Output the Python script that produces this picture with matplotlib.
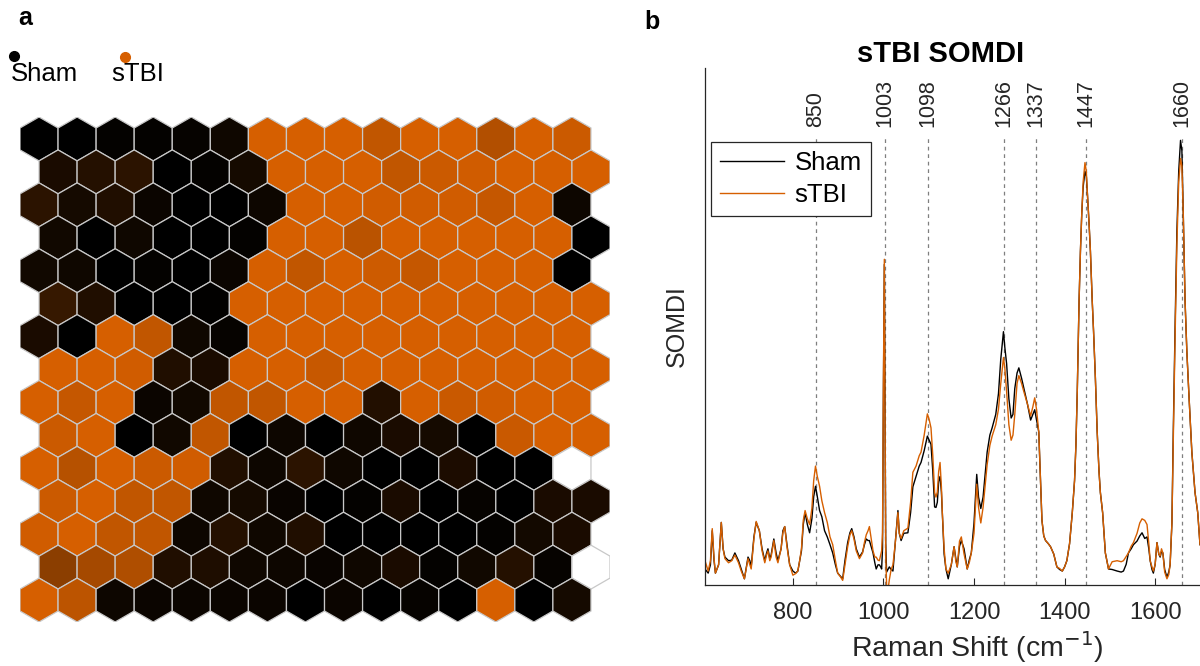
import numpy as np
import matplotlib.pyplot as plt
from matplotlib.patches import RegularPolygon
from matplotlib.lines import Line2D

plt.rcParams['font.family'] = ['Liberation Sans', 'DejaVu Sans']

ORANGE = np.array([214, 95, 0]) / 255  # sTBI colour
nan = np.nan

# fraction of sTBI spectra per SOM neuron, top row first (nan = empty neuron)
stbi_fraction = [
    [0.0, 0.0, 0.02, 0.02, 0.03, 0.07, 1, 1, 1, 0.9, 1, 1, 0.83, 1, 0.95],
    [0.12, 0.17, 0.2, 0.0, 0.02, 0.1, 1, 1, 1, 0.9, 0.95, 0.97, 1, 1, 1],
    [0.2, 0.1, 0.15, 0.05, 0.0, 0.0, 0.06, 1, 1, 0.97, 0.97, 0.97, 0.92, 1, 0.06],
    [0.08, 0.0, 0.07, 0.0, 0.0, 0.02, 1, 1, 0.87, 1, 1, 1, 1, 1, 0.0],
    [0.08, 0.07, 0.0, 0.02, 0.0, 0.05, 1, 0.9, 1, 0.96, 0.92, 1, 1, 1, 0.0],
    [0.25, 0.15, 0.0, 0.0, 0.01, 1, 1, 1, 1, 1, 1, 1, 1, 1, 1],
    [0.12, 0.0, 1, 0.9, 0.07, 0.03, 1, 1, 1, 1, 1, 1, 1, 1, 1],
    [1, 1, 0.97, 0.15, 0.12, 1, 1, 0.93, 1, 1, 1, 1, 1, 1, 1],
    [1, 0.92, 1, 0.05, 0.08, 0.9, 0.9, 1, 1, 0.16, 1, 0.94, 0.97, 1, 1],
    [0.95, 1, 0.0, 0.08, 0.9, 0.0, 0.06, 0.0, 0.07, 0.12, 0.1, 0.0, 0.94, 1, 1],
    [1, 0.85, 1, 0.95, 0.97, 0.15, 0.06, 0.2, 0.07, 0.0, 0.0, 0.13, 0.0, 0.0, nan],
    [0.95, 1, 0.9, 0.9, 0.07, 0.1, 0.04, 0.0, 0.02, 0.12, 0.0, 0.03, 0.0, 0.12, 0.12],
    [0.97, 1, 0.9, 0.9, 0.06, 0.17, 0.07, 0.15, 0.0, 0.0, 0.0, 0.0, 0.02, 0.09, 0.12],
    [0.65, 0.77, 0.82, 0.15, 0.14, 0.07, 0.06, 0.04, 0.07, 0.12, 0.02, 0.08, 0.17, 0.03, nan],
    [1, 0.88, 0.06, 0.05, 0.05, 0.05, 0.05, 0.0, 0.05, 0.0, 0.03, 0.0, 1, 0.0, 0.1],
]

# SOMDI spectra
raman_shift = [606, 613, 618, 622, 626, 629, 636, 642, 646, 650, 658, 665, 672, 680, 686, 693,
               701, 705, 708, 714, 719, 726, 732, 738, 742, 745, 749, 752, 758, 763, 767, 774,
               778, 782, 787, 793, 800, 806, 811, 815, 819, 823, 827, 832, 837, 842, 846, 850,
               854, 859, 864, 870, 876, 882, 888, 894, 899, 905, 910, 915, 921, 926, 930, 935,
               940, 947, 954, 958, 962, 966, 969, 973, 977, 981, 984, 988, 991, 994, 996, 998,
               1000, 1002, 1003.5, 1005, 1007, 1010, 1013, 1017, 1021, 1026, 1032, 1035, 1039,
               1045, 1054, 1060, 1065, 1072, 1079, 1083, 1090, 1097, 1101, 1105, 1109, 1113,
               1116, 1119, 1122, 1125, 1128, 1130, 1134, 1138, 1143, 1150, 1156, 1160, 1163,
               1168, 1172, 1178, 1185, 1190, 1194, 1200, 1206, 1210, 1215, 1220, 1229, 1235,
               1240, 1248, 1254, 1259, 1265, 1268, 1272, 1277, 1282, 1286, 1290, 1295, 1299,
               1305, 1310, 1318, 1325, 1330, 1334, 1338, 1343, 1347, 1350, 1354, 1358, 1364,
               1369, 1376, 1383, 1389, 1395, 1400, 1405, 1411, 1417, 1422, 1425, 1428, 1432,
               1435, 1438, 1441, 1445, 1448, 1450, 1454, 1457, 1461, 1464, 1468, 1472, 1476,
               1479, 1484, 1490, 1497, 1505, 1516, 1525, 1530, 1536, 1541, 1547, 1552, 1560,
               1566, 1571, 1577, 1582, 1586, 1589, 1593, 1596, 1600, 1604, 1608, 1611, 1614,
               1617, 1621, 1626, 1630, 1633, 1637, 1640, 1644, 1648, 1652, 1656, 1659, 1662,
               1666, 1670, 1675, 1681, 1688, 1694, 1699]
sham_somdi = [0.031, 0.023, 0.039, 0.105, 0.047, 0.023, 0.039, 0.121, 0.070, 0.054, 0.047, 0.048,
              0.062, 0.047, 0.031, 0.012, 0.054, 0.047, 0.035, 0.093, 0.121, 0.105, 0.070, 0.047,
              0.062, 0.070, 0.051, 0.058, 0.089, 0.062, 0.047, 0.070, 0.105, 0.113, 0.078, 0.039,
              0.027, 0.023, 0.027, 0.047, 0.066, 0.117, 0.140, 0.117, 0.101, 0.128, 0.171, 0.191,
              0.171, 0.144, 0.132, 0.105, 0.093, 0.078, 0.062, 0.039, 0.023, 0.017, 0.012, 0.047,
              0.082, 0.101, 0.109, 0.093, 0.070, 0.054, 0.064, 0.078, 0.089, 0.086, 0.086, 0.074,
              0.062, 0.043, 0.031, 0.039, 0.039, 0.035, 0.031, 0.070,
              0.38, 0.62, 0.35, 0.08, 0.025, 0.03, 0.035, 0.03, 0.027, 0.08, 0.144, 0.10, 0.086,
              0.10, 0.101, 0.14, 0.19, 0.21, 0.23, 0.237, 0.26, 0.288, 0.28, 0.272, 0.22, 0.151,
              0.15, 0.16, 0.20, 0.21, 0.18, 0.14, 0.06, 0.031, 0.012, 0.04, 0.074, 0.05, 0.035,
              0.075, 0.086, 0.07, 0.031, 0.05, 0.062, 0.12, 0.214, 0.17, 0.148, 0.17, 0.257, 0.29,
              0.304, 0.33, 0.37, 0.436, 0.49, 0.46, 0.428, 0.36, 0.323, 0.33, 0.38, 0.41, 0.42,
              0.40, 0.381, 0.35, 0.319, 0.33, 0.339, 0.32, 0.296, 0.20, 0.125, 0.095, 0.086, 0.08,
              0.074, 0.06, 0.035, 0.03, 0.027, 0.035, 0.047, 0.08, 0.14, 0.202, 0.27, 0.374, 0.55,
              0.646, 0.72, 0.77, 0.80, 0.79, 0.763, 0.70, 0.646, 0.55, 0.49, 0.40, 0.296, 0.22,
              0.179, 0.14, 0.062, 0.031, 0.03, 0.027, 0.025, 0.027, 0.04, 0.062, 0.07, 0.078, 0.085,
              0.095, 0.101, 0.09, 0.093, 0.07, 0.047, 0.03, 0.023, 0.04, 0.082, 0.06, 0.054, 0.065,
              0.062, 0.03, 0.015, 0.025, 0.039, 0.12, 0.296, 0.50, 0.685, 0.80, 0.86, 0.84, 0.72,
              0.55, 0.451, 0.36, 0.257, 0.179, 0.14, 0.078]
stbi_somdi = [0.047, 0.027, 0.047, 0.109, 0.051, 0.023, 0.039, 0.121, 0.070, 0.051, 0.043, 0.047,
              0.058, 0.043, 0.027, 0.012, 0.051, 0.039, 0.031, 0.089, 0.123, 0.105, 0.066, 0.043,
              0.058, 0.066, 0.047, 0.054, 0.086, 0.054, 0.043, 0.070, 0.101, 0.113, 0.074, 0.039,
              0.019, 0.022, 0.027, 0.047, 0.070, 0.125, 0.144, 0.128, 0.117, 0.148, 0.202, 0.230,
              0.210, 0.191, 0.163, 0.140, 0.121, 0.093, 0.078, 0.047, 0.023, 0.016, 0.009, 0.039,
              0.074, 0.097, 0.105, 0.089, 0.066, 0.051, 0.062, 0.082, 0.097, 0.105, 0.113, 0.089,
              0.066, 0.054, 0.054, 0.048, 0.047, 0.058, 0.066, 0.101,
              0.40, 0.63, 0.36, 0.06, 0.0, -0.01, 0.01, 0.03, 0.039, 0.08, 0.14, 0.10, 0.09,
              0.105, 0.11, 0.16, 0.218, 0.23, 0.25, 0.257, 0.29, 0.331, 0.32, 0.304, 0.25, 0.179,
              0.17, 0.18, 0.22, 0.237, 0.19, 0.14, 0.07, 0.031, 0.023, 0.04, 0.074, 0.045, 0.035,
              0.085, 0.093, 0.06, 0.031, 0.045, 0.062, 0.10, 0.195, 0.15, 0.12, 0.15, 0.233, 0.27,
              0.288, 0.31, 0.34, 0.389, 0.44, 0.42, 0.374, 0.31, 0.28, 0.29, 0.33, 0.39, 0.405,
              0.39, 0.374, 0.35, 0.327, 0.345, 0.362, 0.34, 0.296, 0.20, 0.125, 0.095, 0.086, 0.08,
              0.074, 0.06, 0.035, 0.032, 0.027, 0.035, 0.047, 0.08, 0.14, 0.202, 0.27, 0.374, 0.55,
              0.646, 0.72, 0.78, 0.817, 0.80, 0.763, 0.70, 0.646, 0.55, 0.49, 0.40, 0.296, 0.22,
              0.179, 0.14, 0.062, 0.031, 0.045, 0.047, 0.045, 0.047, 0.055, 0.062, 0.075, 0.082, 0.10,
              0.12, 0.128, 0.125, 0.117, 0.08, 0.047, 0.035, 0.027, 0.04, 0.082, 0.06, 0.056, 0.07,
              0.062, 0.025, 0.012, 0.02, 0.039, 0.12, 0.28, 0.48, 0.66, 0.78, 0.825, 0.81, 0.72,
              0.55, 0.451, 0.36, 0.257, 0.179, 0.14, 0.078]

peak_positions = [850, 1003, 1098, 1266, 1337, 1447, 1660]
x_ticks = [800, 1000, 1200, 1400, 1600]

W, H = 1200, 666
fig = plt.figure(figsize=(W / 100, H / 100), dpi=100)

# ---- panel a: SOM hexagon map ----
R = 1 / np.sqrt(3)  # hexagon radius for unit width
n_rows = len(stbi_fraction)
n_cols = len(stbi_fraction[0])
ax_a = fig.add_axes([20 / W, (H - 622) / H, 590 / W, 505 / H])
for r, row in enumerate(stbi_fraction):
    for c, frac in enumerate(row):
        x = c + 0.5 * (r % 2)
        y = (n_rows - 1 - r) * 1.5 * R
        face = 'white' if np.isnan(frac) else ORANGE * frac
        ax_a.add_patch(RegularPolygon((x, y), numVertices=6, radius=R, orientation=0,
                                      facecolor=face, edgecolor='#c8c8c8', linewidth=0.9))
ax_a.set_xlim(-0.5, n_cols)
ax_a.set_ylim(-R, (n_rows - 1) * 1.5 * R + R)
ax_a.axis('off')

# legend of panel a
fig.text(18 / W, 1 - 18 / H, 'a', fontsize=18, fontweight='bold', va='center', ha='left')
fig.add_artist(Line2D([14 / W], [1 - 56 / H], marker='o', color='black', markersize=7,
                      transform=fig.transFigure))
fig.add_artist(Line2D([125 / W], [1 - 57 / H], marker='o', color=ORANGE, markersize=7,
                      transform=fig.transFigure))
fig.text(11 / W, 1 - 74 / H, 'Sham', fontsize=18.5, va='center', ha='left')
fig.text(111 / W, 1 - 74 / H, 'sTBI', fontsize=18.5, va='center', ha='left')

# ---- panel b: SOMDI spectra ----
fig.text(652 / W, 1 - 22 / H, 'b', fontsize=18, fontweight='bold', va='center', ha='center')
ax_b = fig.add_axes([705 / W, (H - 585) / H, 495 / W, 517 / H])
for p in peak_positions:
    ax_b.plot([p, p], [0, 0.87], linestyle=(0, (3, 3)), color='#7f7f7f', linewidth=0.9)
    ax_b.text(p, 0.885, str(p), rotation=90, ha='center', va='bottom', fontsize=15.5,
              color='#262626')
ax_b.plot(raman_shift, sham_somdi, color='black', linewidth=1.0, label='Sham')
ax_b.plot(raman_shift, stbi_somdi, color=ORANGE, linewidth=1.0, label='sTBI')
ax_b.set_xlim(606, 1699)
ax_b.set_ylim(0, 1)
ax_b.set_xticks(x_ticks)
ax_b.set_yticks([])
ax_b.tick_params(axis='x', direction='in', length=5, labelsize=17, colors='#262626', pad=12)
for side in ['top', 'right']:
    ax_b.spines[side].set_visible(False)
for side in ['left', 'bottom']:
    ax_b.spines[side].set_color('#262626')
    ax_b.spines[side].set_linewidth(0.9)
ax_b.set_xlabel('Raman Shift (cm$^{-1}$)', fontsize=20.5, color='#262626')
ax_b.xaxis.set_label_coords((977 - 705) / 495, -0.085)
ax_b.set_ylabel('SOMDI', fontsize=18, color='#262626', labelpad=12)
ax_b.set_title('sTBI SOMDI', fontsize=21, fontweight='bold', x=0.475, pad=4)
leg = ax_b.legend(loc='upper left', bbox_to_anchor=(0.012, 0.856), fontsize=18.5,
                  handlelength=2.5, fancybox=False, edgecolor='#262626', framealpha=1,
                  borderpad=0.35, labelspacing=0.3, handletextpad=0.4, borderaxespad=0)
leg.get_frame().set_linewidth(0.9)

fig.savefig('out.png', dpi=100)
